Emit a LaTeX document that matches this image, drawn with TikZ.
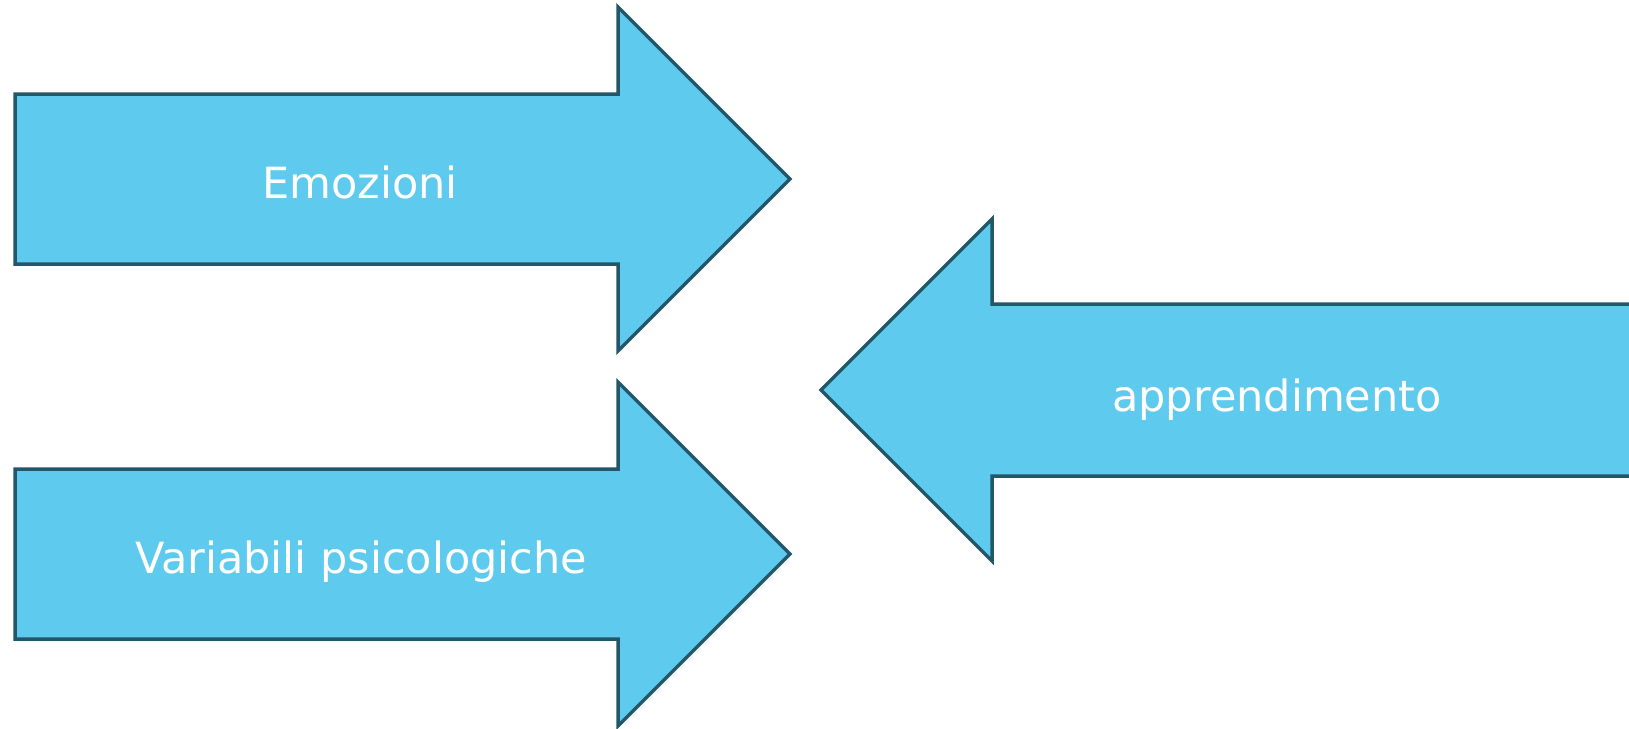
\documentclass[tikz,border=0pt]{standalone}
\usepackage{fontspec}
\setmainfont{DejaVu Sans}
\definecolor{arrfill}{RGB}{94,202,238}
\definecolor{arrdraw}{RGB}{34,86,104}
\begin{document}
\begin{tikzpicture}[x=1pt,y=-1pt,
  arrowshape/.style={fill=arrfill,draw=arrdraw,line width=3.5pt,line join=miter},
  lbl/.style={text=white,font=\fontsize{43}{50}\selectfont,inner sep=0pt}]
\useasboundingbox (0,0) rectangle (1629,728);
\begin{scope}
\clip (0,0) rectangle (1629,728);
\draw[arrowshape] (15,94) -- (618,94) -- (618,7) -- (790,179) -- (618,351) -- (618,264) -- (15,264) -- cycle;
\draw[arrowshape] (15,469) -- (618,469) -- (618,382) -- (790,554) -- (618,726) -- (618,639) -- (15,639) -- cycle;
\draw[arrowshape] (1640,304) -- (992,304) -- (992,219) -- (821,390) -- (992,561) -- (992,476) -- (1640,476) -- cycle;
\end{scope}
\node[lbl,anchor=base] (emo) at (360,198) {Emozioni};
\node[lbl,anchor=base] (var) at (361,573) {Variabili psicologiche};
\node[lbl,anchor=base] (app) at (1277,411) {apprendimento};
\end{tikzpicture}
\end{document}
